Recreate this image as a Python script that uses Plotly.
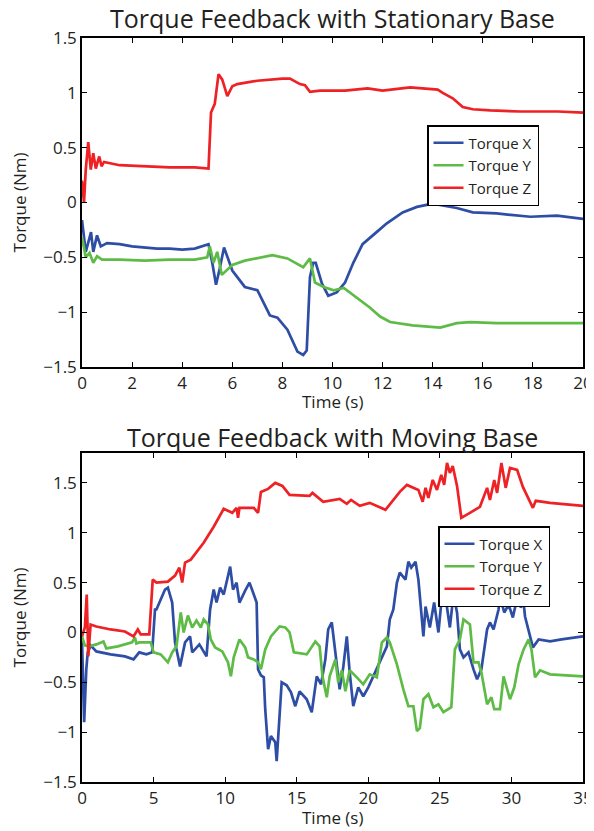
import plotly.graph_objects as go

# ---------------- Top panel: Stationary Base ----------------
tx_top = [0, 0.15, 0.36, 0.45, 0.6, 0.75, 1.0, 1.5, 2.0, 2.5, 3.0, 3.5, 4.0, 4.5, 5.05, 5.2, 5.35, 5.5,
          5.67, 6.0, 6.5, 7.0, 7.5, 7.8, 8.2, 8.6, 8.83, 8.97, 9.1, 9.23, 9.33, 9.58, 9.83, 10.17, 10.5,
          10.83, 11.2, 11.76, 12.17, 12.8, 13.37, 14.0, 14.96, 15.6, 16.55, 17.9, 18.96, 20.0]
x_top = [-0.16, -0.45, -0.27, -0.45, -0.3, -0.4, -0.37, -0.38, -0.4, -0.41, -0.42, -0.42, -0.43, -0.42,
         -0.38, -0.55, -0.75, -0.6, -0.41, -0.62, -0.77, -0.8, -1.03, -1.05, -1.16, -1.36, -1.39, -1.35,
         -0.68, -0.55, -0.55, -0.74, -0.85, -0.82, -0.73, -0.55, -0.38, -0.27, -0.19, -0.09, -0.04, -0.01,
         -0.05, -0.09, -0.1, -0.13, -0.12, -0.15]

ty_top = [0, 0.15, 0.3, 0.45, 0.6, 0.8, 1.5, 2.5, 3.5, 4.5, 5.0, 5.1, 5.25, 5.4, 5.58, 6.0, 6.5, 7.0, 7.6,
          8.2, 8.83, 9.1, 9.3, 9.65, 10.05, 10.45, 10.96, 11.5, 11.9, 12.3, 13.2, 14.3, 14.96, 15.5, 16.55,
          17.9, 20.0]
y_top = [-0.32, -0.5, -0.46, -0.55, -0.49, -0.52, -0.52, -0.53, -0.52, -0.52, -0.5, -0.4, -0.55, -0.45,
         -0.66, -0.57, -0.53, -0.51, -0.48, -0.51, -0.59, -0.51, -0.73, -0.77, -0.8, -0.78, -0.87, -0.96,
         -1.04, -1.09, -1.12, -1.14, -1.1, -1.09, -1.1, -1.1, -1.1]

tz_top = [0, 0.08, 0.15, 0.25, 0.35, 0.45, 0.55, 0.69, 0.78, 0.88, 1.5, 2.5, 3.5, 4.5, 5.05, 5.15, 5.3,
          5.45, 5.6, 5.8, 6.0, 6.2, 7.0, 8.0, 8.3, 8.7, 8.9, 9.1, 9.5, 10.5, 11.4, 12.0, 13.1, 14.2, 14.4,
          14.8, 15.2, 15.6, 16.3, 17.5, 19.0, 20.0]
z_top = [0.2, 0.0, 0.3, 0.55, 0.3, 0.45, 0.31, 0.42, 0.33, 0.37, 0.34, 0.33, 0.32, 0.32, 0.31, 0.82, 0.9,
         1.17, 1.12, 0.97, 1.06, 1.08, 1.11, 1.13, 1.13, 1.08, 1.07, 1.01, 1.02, 1.02, 1.04, 1.02, 1.05,
         1.03, 1.0, 0.95, 0.87, 0.85, 0.84, 0.83, 0.83, 0.82]

# ---------------- Bottom panel: Moving Base ----------------
tx_bot = [0, 0.15, 0.3, 0.4, 0.6, 1.0, 2.0, 3.0, 3.6, 4.0,
          4.5, 4.9, 5.1, 5.2, 5.5, 5.8, 6.0, 6.3, 6.5, 6.85,
          7.2, 7.55, 7.7, 8.2, 8.7, 8.95, 9.2, 9.4, 9.65, 9.9,
          10.35, 10.55, 10.8, 11.0, 11.4, 11.7, 11.95, 12.2, 12.3, 12.5,
          12.7, 12.8, 13.0, 13.2, 13.5, 13.6, 13.95, 14.3, 14.6, 14.9,
          15.2, 15.7, 16.05, 16.4, 16.7, 17.0, 17.2, 17.45, 17.7, 18.0,
          18.25, 18.5, 18.7, 18.95, 19.3, 19.65, 20.0, 20.35, 20.8, 21.3,
          21.5, 21.75, 22.0, 22.2, 22.6, 22.8, 23.0, 23.3, 23.5, 23.7,
          23.85, 24.0, 24.3, 24.6, 24.9, 25.1, 25.4, 25.7, 25.95, 26.2,
          26.4, 26.65, 27.0, 27.35, 27.6, 27.9, 28.3, 28.5, 28.75, 29.1,
          29.2, 29.5, 29.8, 30.1, 30.45, 30.65, 30.85, 30.95, 31.3, 31.5,
          31.9, 32.7, 33.5, 35.0]
x_bot = [-0.07, -0.9, -0.37, -0.2, -0.13, -0.19, -0.22, -0.24, -0.27, -0.2,
         -0.22, -0.2, 0.23, 0.23, 0.33, 0.43, 0.45, 0.3, -0.1, -0.34,
         -0.1, -0.04, -0.2, -0.12, -0.24, 0.23, 0.43, 0.3, 0.45, 0.38,
         0.66, 0.43, 0.5, 0.3, 0.42, 0.5, 0.4, 0.3, -0.37, -0.43,
         -0.45, -0.77, -1.17, -1.04, -1.1, -1.29, -0.5, -0.53, -0.6, -0.74,
         -0.59, -0.67, -0.8, -0.44, -0.52, -0.27, 0.03, 0.1, -0.2, -0.57,
         -0.35, -0.04, -0.4, -0.74, -0.55, -0.64, -0.55, -0.44, -0.3, -0.14,
         0.13, 0.23, 0.5, 0.6, 0.53, 0.71, 0.65, 0.71, 0.53, 0.23,
         -0.04, 0.26, 0.05, 0.3, 0.0, 0.3, 0.35, 0.05, 0.38, 0.2,
         -0.17, -0.25, -0.2, -0.37, -0.47, -0.37, 0.03, 0.1, 0.03, 0.23,
         0.36, 0.2, 0.28, 0.15, 0.38, 0.25, 0.3, 0.16, -0.04, -0.15,
         -0.07, -0.09, -0.07, -0.04]

ty_bot = [0, 0.2, 0.5, 1.0, 1.5, 1.7, 2.5, 3.5, 3.7, 3.8,
          4.0, 4.8, 5.0, 5.5, 6.0, 6.3, 6.6, 6.9, 7.1, 7.4,
          7.7, 8.0, 8.3, 8.5, 8.8, 9.0, 9.3, 9.8, 10.2, 10.4,
          10.6, 11.0, 11.4, 11.6, 12.0, 12.3, 12.5, 12.8, 13.2, 13.8,
          14.2, 14.5, 14.8, 15.7, 16.3, 16.6, 16.8, 17.1, 17.3, 17.7,
          17.9, 18.15, 18.4, 18.7, 19.2, 19.65, 20.1, 20.6, 20.95, 21.3,
          21.5, 22.0, 22.45, 22.8, 23.15, 23.4, 23.6, 23.85, 24.2, 24.55,
          24.9, 25.25, 25.8, 26.05, 26.4, 26.65, 27.1, 27.35, 27.7, 27.9,
          28.3, 28.6, 28.8, 29.2, 29.45, 29.65, 29.9, 30.2, 30.5, 30.85,
          31.2, 31.4, 31.65, 32.0, 32.7, 35.0]
y_bot = [-0.04, -0.13, -0.14, -0.12, -0.09, -0.16, -0.14, -0.1, -0.05, -0.11,
         -0.1, -0.1, -0.2, -0.22, -0.3, -0.2, -0.14, 0.2, 0.0, 0.17,
         0.05, 0.12, 0.05, 0.13, 0.08, -0.07, -0.15, -0.19, -0.3, -0.44,
         -0.25, -0.07, -0.15, -0.25, -0.27, -0.3, -0.37, -0.17, -0.04, 0.06,
         0.05, 0.0, -0.2, -0.22, -0.09, -0.14, -0.44, -0.65, -0.44, -0.27,
         -0.5, -0.38, -0.59, -0.38, -0.45, -0.52, -0.42, -0.45, -0.1, -0.05,
         -0.1, -0.32, -0.57, -0.74, -0.74, -0.99, -0.96, -0.67, -0.62, -0.75,
         -0.72, -0.8, -0.75, -0.17, -0.07, 0.13, 0.08, -0.3, -0.3, -0.4,
         -0.72, -0.65, -0.77, -0.77, -0.44, -0.55, -0.67, -0.55, -0.32, -0.17,
         -0.07, -0.17, -0.45, -0.38, -0.42, -0.44]

tz_bot = [0, 0.2, 0.33, 0.44, 0.6, 1.0, 2.0, 3.0, 3.6, 3.9,
          4.1, 4.7, 4.94, 5.2, 6.0, 6.5, 6.8, 7.0, 7.2, 7.6,
          8.5, 9.2, 9.9, 10.5, 10.8, 10.9, 11.0, 12.0, 12.3, 12.5,
          13.0, 13.5, 14.0, 14.5, 15.9, 16.1, 16.85, 18.0, 18.5, 18.8,
          19.4, 20.1, 21.2, 22.2, 22.7, 23.5, 23.8, 24.0, 24.2, 24.5,
          24.8, 25.1, 25.3, 25.5, 25.7, 25.9, 26.2, 26.5, 27.1, 27.8,
          28.3, 28.5, 28.8, 29.0, 29.3, 29.6, 29.9, 30.4, 30.8, 31.3,
          31.5, 31.7, 32.7, 35.0]
z_bot = [-0.04, 0.05, 0.38, -0.24, 0.08, 0.06, 0.03, 0.01, -0.04, 0.03,
         -0.02, -0.02, 0.53, 0.5, 0.51, 0.57, 0.65, 0.5, 0.7, 0.73,
         0.9, 1.06, 1.24, 1.2, 1.25, 1.15, 1.25, 1.25, 1.2, 1.41,
         1.44, 1.5, 1.47, 1.38, 1.37, 1.4, 1.31, 1.34, 1.29, 1.33,
         1.27, 1.3, 1.23, 1.41, 1.48, 1.43, 1.31, 1.45, 1.35, 1.53,
         1.43, 1.58, 1.48, 1.7, 1.6, 1.67, 1.47, 1.15, 1.2, 1.26,
         1.45, 1.33, 1.53, 1.4, 1.7, 1.45, 1.65, 1.63, 1.46, 1.3,
         1.25, 1.32, 1.3, 1.27]

series_names = ["Torque X", "Torque Y", "Torque Z"]
top_titles = ["Torque Feedback with Stationary Base", "Torque Feedback with Moving Base"]
x_label = "Time (s)"
y_label = "Torque (Nm)"
top_xticks = [0, 2, 4, 6, 8, 10, 12, 14, 16, 18, 20]
bot_xticks = [0, 5, 10, 15, 20, 25, 30, 35]
top_yticks = [-1.5, -1, -0.5, 0, 0.5, 1, 1.5]
bot_yticks = [-1.5, -1, -0.5, 0, 0.5, 1, 1.5]

for a, b in [(tx_top, x_top), (ty_top, y_top), (tz_top, z_top),
             (tx_bot, x_bot), (ty_bot, y_bot), (tz_bot, z_bot)]:
    assert len(a) == len(b), (len(a), len(b))

COLORS = ["#2E4EA6", "#5DBB46", "#EE2125"]
FONT = "Open Sans"
TXT = "#231F20"

fig = go.Figure()
top_data = [(tx_top, x_top), (ty_top, y_top), (tz_top, z_top)]
bot_data = [(tx_bot, x_bot), (ty_bot, y_bot), (tz_bot, z_bot)]
for i, (t, v) in enumerate(top_data):
    fig.add_trace(go.Scatter(x=t, y=v, mode="lines", name=series_names[i],
                             line=dict(color=COLORS[i], width=2.7),
                             xaxis="x", yaxis="y", legend="legend"))
for i, (t, v) in enumerate(bot_data):
    fig.add_trace(go.Scatter(x=t, y=v, mode="lines", name=series_names[i],
                             line=dict(color=COLORS[i], width=2.7),
                             xaxis="x2", yaxis="y2", legend="legend2"))

# The page body has an 8px default margin, so the figure is 8px smaller.
FIG_W, FIG_H = 586, 823
M_L, M_R, M_T, M_B = 74, 11, 30, 49
H_PLOT = FIG_H - M_T - M_B          # 744 px
split_top = 1 - 329 / H_PLOT
split_bot = 329 / H_PLOT


def py(ref_px):
    """paper y for a reference-page pixel row"""
    return (782 - ref_px) / H_PLOT


def px(ref_px):
    return (ref_px - 82) / 501


axis_common = dict(showline=True, linecolor="black", linewidth=1.5, mirror="ticks",
                   ticks="inside", ticklen=5, tickwidth=1, tickcolor="black",
                   showgrid=False, zeroline=False, automargin=False,
                   tickfont=dict(family=FONT, size=17, color=TXT))
ytitle = dict(text=y_label, font=dict(size=17, family=FONT, color=TXT), standoff=12)
legend_common = dict(xanchor="left", yanchor="top", bordercolor="black", borderwidth=1.5,
                     bgcolor="white", font=dict(family=FONT, size=15, color=TXT),
                     tracegroupgap=0, itemwidth=30)

fig.update_layout(
    width=FIG_W, height=FIG_H,
    margin=dict(l=M_L, r=M_R, t=M_T, b=M_B),
    paper_bgcolor="white", plot_bgcolor="white",
    font=dict(family=FONT, color=TXT),
    xaxis=dict(domain=[0, 1], anchor="y", range=[0, 20], tickvals=top_xticks, **axis_common),
    yaxis=dict(domain=[split_top, 1], anchor="x", range=[-1.5, 1.5], tickvals=top_yticks,
               title=ytitle, **axis_common),
    xaxis2=dict(domain=[0, 1], anchor="y2", range=[0, 35], tickvals=bot_xticks, **axis_common),
    yaxis2=dict(domain=[0, split_bot], anchor="x2", range=[-1.5, 1.8], tickvals=bot_yticks,
                title=ytitle, **axis_common),
    legend=dict(x=px(427), y=py(125), **legend_common),
    legend2=dict(x=px(438), y=py(526), **legend_common),
    annotations=[
        dict(text=top_titles[0], x=0.5, y=py(18), xref="paper", yref="paper",
             showarrow=False, xanchor="center", yanchor="middle",
             font=dict(family=FONT, size=25, color=TXT)),
        dict(text=top_titles[1], x=0.5, y=py(437), xref="paper", yref="paper",
             showarrow=False, xanchor="center", yanchor="middle",
             font=dict(family=FONT, size=25, color=TXT)),
        dict(text=x_label, x=0.5, y=py(401), xref="paper", yref="paper",
             showarrow=False, xanchor="center", yanchor="middle",
             font=dict(family=FONT, size=17, color=TXT)),
        dict(text=x_label, x=0.5, y=py(817), xref="paper", yref="paper",
             showarrow=False, xanchor="center", yanchor="middle",
             font=dict(family=FONT, size=17, color=TXT)),
    ],
)

fig.write_html("out.html")
